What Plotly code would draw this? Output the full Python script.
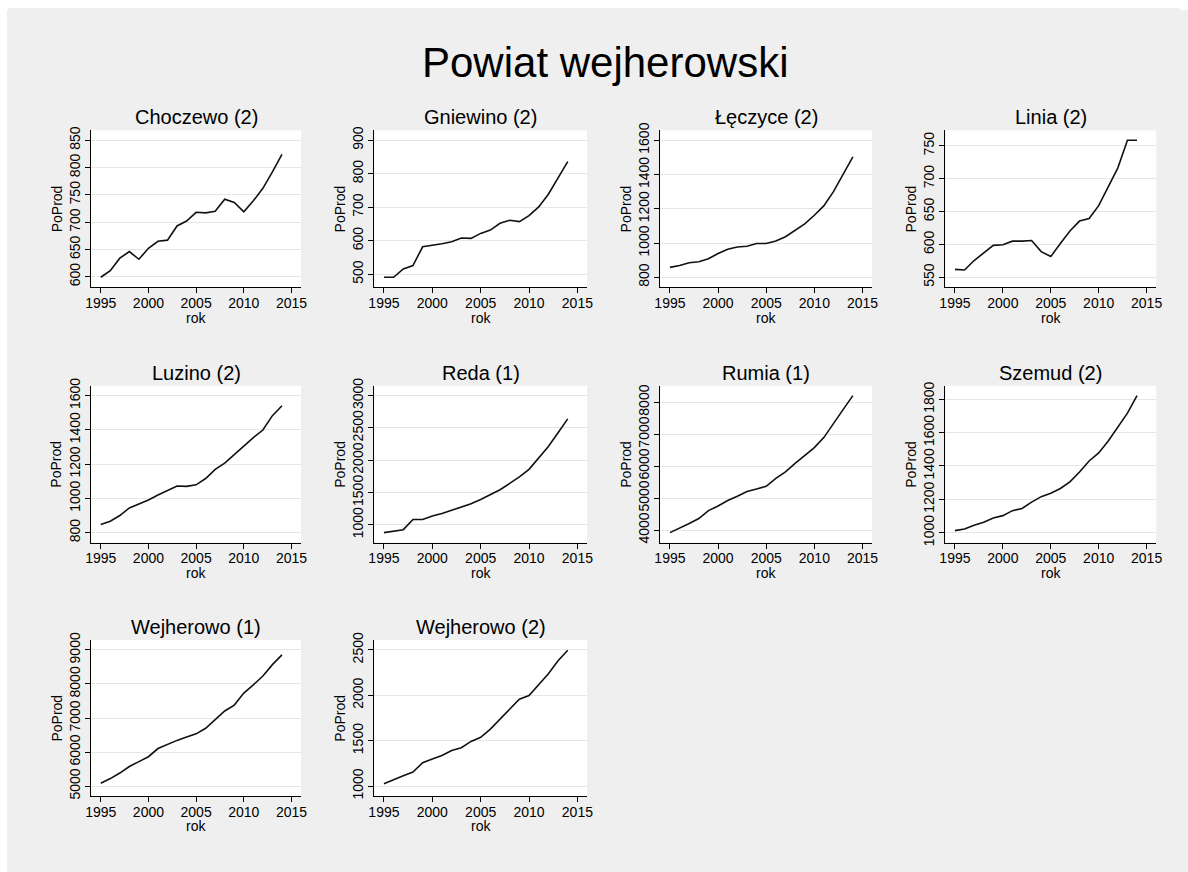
import plotly.graph_objects as go

# ---------------- data ----------------
rok = [1995, 1996, 1997, 1998, 1999, 2000, 2001, 2002, 2003, 2004,
       2005, 2006, 2007, 2008, 2009, 2010, 2011, 2012, 2013, 2014]

gminy = ["Choczewo (2)", "Gniewino (2)", "Łęczyce (2)", "Linia (2)",
         "Luzino (2)", "Reda (1)", "Rumia (1)", "Szemud (2)",
         "Wejherowo (1)", "Wejherowo (2)"]

choczewo = [599, 611, 634, 646, 632, 652, 665, 667, 693, 702,
            718, 717, 720, 742, 736, 719, 739, 762, 792, 824]
gniewino = [491, 491, 516, 526, 582, 586, 591, 597, 608, 607,
            622, 632, 652, 661, 657, 675, 701, 739, 787, 836]
leczyce = [858, 869, 885, 891, 908, 939, 964, 977, 981, 997,
           997, 1012, 1037, 1077, 1112, 1162, 1218, 1301, 1401, 1503]
linia = [562, 561, 575.5, 586.5, 598.5, 599.5, 605, 605, 606, 589,
         581.5, 601.5, 620.5, 635.5, 639.5, 659, 688, 716.5, 758.5, 758.5]
luzino = [848, 867, 900, 944, 967, 991, 1020, 1047, 1072, 1070,
          1079, 1116, 1169, 1206, 1256, 1307, 1355, 1399, 1483, 1541]
reda = [878, 904, 924, 1081, 1081, 1137, 1173, 1223, 1269, 1325,
        1391, 1462, 1543, 1640, 1741, 1858, 2030, 2213, 2426, 2640]
rumia = [3918, 4051, 4206, 4360, 4607, 4751, 4925, 5059, 5203, 5285,
         5368, 5614, 5820, 6087, 6334, 6581, 6900, 7321, 7774, 8206]
szemud = [1012, 1022, 1045, 1063, 1088, 1102, 1132, 1145, 1183, 1216,
          1236, 1265, 1305, 1364, 1430, 1478, 1550, 1635, 1717, 1822]
wejherowo1 = [5086, 5221, 5384, 5576, 5719, 5863, 6103, 6228, 6343, 6439,
              6535, 6698, 6966, 7206, 7379, 7734, 7974, 8233, 8568, 8856]
wejherowo2 = [1025, 1072, 1115, 1154, 1258, 1298, 1337, 1391, 1423, 1492,
              1538, 1628, 1736, 1843, 1958, 1997, 2119, 2238, 2381, 2496]

series = [choczewo, gniewino, leczyce, linia, luzino, reda, rumia,
          szemud, wejherowo1, wejherowo2]

x_ticks = [1995, 2000, 2005, 2010, 2015]
y_ticks = [
    [600, 650, 700, 750, 800, 850],
    [500, 600, 700, 800, 900],
    [800, 1000, 1200, 1400, 1600],
    [550, 600, 650, 700, 750],
    [800, 1000, 1200, 1400, 1600],
    [1000, 1500, 2000, 2500, 3000],
    [4000, 5000, 6000, 7000, 8000],
    [1000, 1200, 1400, 1600, 1800],
    [5000, 6000, 7000, 8000, 9000],
    [1000, 1500, 2000, 2500],
]

tytul = "Powiat wejherowski"
y_label = "PoProd"
x_label = "rok"

# ---------------- layout ----------------
# The page body keeps its default 8 px margin, so the figure is 16 px smaller
# than the window and every screen position is shifted by OFF.
OFF = 8
W, H = 1188 - 2 * OFF, 872 - 2 * OFF
cols = [(86, 298), (372, 587), (661, 875), (949, 1162)]   # screen px
rows = [(124, 283), (383, 542), (641, 799)]               # screen px
FONT = "Liberation Sans, Arial, sans-serif"
BG = "#EFEFEF"
GRID = "#E6E6E6"


def px_x(v):
    return (v - OFF) / W


def px_y(v):
    return 1 - (v - OFF) / H


fig = go.Figure()
annotations = []

for i, (name, vals, yt) in enumerate(zip(gminy, series, y_ticks)):
    r, c = divmod(i, 4)
    x0, x1 = cols[c]
    y0, y1 = rows[r]
    n = i + 1
    xa = "x" if n == 1 else f"x{n}"
    ya = "y" if n == 1 else f"y{n}"

    fig.add_trace(go.Scatter(x=rok, y=vals, mode="lines",
                             line=dict(color="#111111", width=1.6),
                             xaxis=xa, yaxis=ya, showlegend=False,
                             hoverinfo="x+y"))

    lo = min(min(yt), min(vals))
    hi = max(max(yt), max(vals))
    pad = 0.072 * (hi - lo)

    common = dict(showline=True, linecolor="black", linewidth=1,
                  ticks="outside", ticklen=5, tickcolor="black", tickwidth=1,
                  tickfont=dict(family=FONT, size=14, color="black"),
                  zeroline=False, fixedrange=True)

    fig.layout[("xaxis" if n == 1 else f"xaxis{n}")] = dict(
        domain=[px_x(x0), px_x(x1)], anchor=ya, ticklabelstandoff=-2,
        range=[1994.0, 2016.0], tickvals=x_ticks, showgrid=False, **common)
    fig.layout[("yaxis" if n == 1 else f"yaxis{n}")] = dict(
        domain=[px_y(y1), px_y(y0)], anchor=xa,
        range=[lo - pad, hi + pad], tickvals=yt, tickangle=-90,
        showgrid=True, gridcolor=GRID, gridwidth=1.2, **common)

    annotations.append(dict(text=name, x=px_x((x0 + x1) / 2), y=px_y(y0),
                            xref="paper", yref="paper", xanchor="center",
                            yanchor="bottom", showarrow=False,
                            font=dict(family=FONT, size=20, color="black")))
    annotations.append(dict(text=y_label, x=px_x(x0 - 35), y=px_y((y0 + y1) / 2),
                            xref="paper", yref="paper", xanchor="center",
                            yanchor="middle", showarrow=False, textangle=-90,
                            font=dict(family=FONT, size=14, color="black")))
    annotations.append(dict(text=x_label, x=px_x((x0 + x1) / 2), y=px_y(y1 + 31),
                            xref="paper", yref="paper", xanchor="center",
                            yanchor="middle", showarrow=False,
                            font=dict(family=FONT, size=14, color="black")))

annotations.append(dict(text=tytul, x=px_x(605), y=px_y(55), xref="paper", yref="paper",
                        xanchor="center", yanchor="middle", showarrow=False,
                        font=dict(family=FONT, size=42, color="black")))

fig.update_layout(
    width=W, height=H,
    margin=dict(l=0, r=0, t=0, b=0),
    paper_bgcolor=BG,
    plot_bgcolor="white",
    annotations=annotations,
    font=dict(family=FONT, color="black"),
)

# page around the figure: grey, with a white strip along the top and left edges
fig.write_html(
    "out.html",
    config={"displayModeBar": False},
    post_script=("document.documentElement.style.background="
                 "'linear-gradient(white,white) no-repeat 0 0 / 100% 10px,"
                 " linear-gradient(white,white) no-repeat 0 0 / 7px 100%, #EFEFEF';"),
)
